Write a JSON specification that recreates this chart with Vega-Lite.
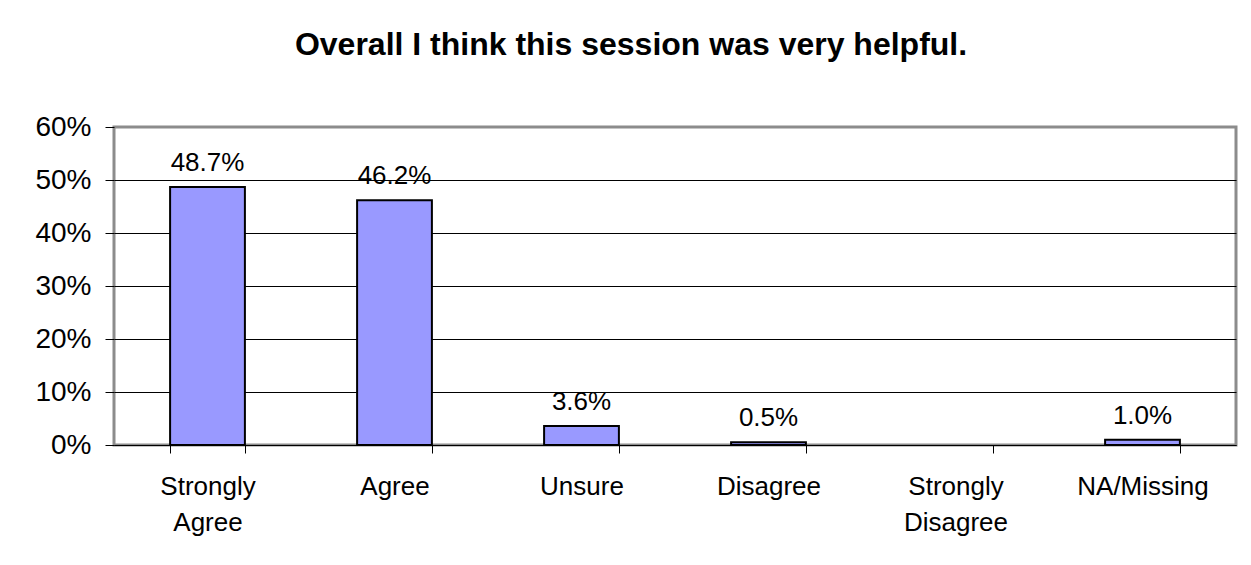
{
  "$schema": "https://vega.github.io/schema/vega-lite/v6.json",
  "autosize": {"type": "none"},
  "padding": {"left": 114, "top": 127, "right": 15, "bottom": 120},
  "width": 1122,
  "height": 318,
  "background": "white",
  "title": {
    "text": "Overall I think this session was very helpful.",
    "font": "Liberation Sans",
    "fontSize": 32,
    "fontWeight": "bold",
    "color": "black",
    "anchor": "middle",
    "frame": "group",
    "baseline": "alphabetic",
    "dx": -44,
    "offset": 26
  },
  "config": {
    "view": {"stroke": "#8c8c8c", "strokeWidth": 3},
    "font": "Liberation Sans"
  },
  "data": {
    "values": [
      {"response": "Strongly Agree", "pct": 0.487},
      {"response": "Agree", "pct": 0.462},
      {"response": "Unsure", "pct": 0.036},
      {"response": "Disagree", "pct": 0.005},
      {"response": "Strongly Disagree", "pct": null},
      {"response": "NA/Missing", "pct": 0.010}
    ]
  },
  "encoding": {
    "x": {
      "field": "response",
      "type": "nominal",
      "sort": null,
      "scale": {
        "domain": ["Strongly Agree", "Agree", "Unsure", "Disagree", "Strongly Disagree", "NA/Missing"],
        "paddingInner": 0.6,
        "paddingOuter": 0.3
      },
      "axis": {
        "title": null,
        "labelAngle": 0,
        "labelExpr": "split(datum.label, ' ')",
        "labelFont": "Liberation Sans",
        "labelFontSize": 26,
        "labelColor": "black",
        "labelLineHeight": 36,
        "labelPadding": 20,
        "labelBaseline": "top",
        "tickBand": "extent",
        "tickColor": "black",
        "tickSize": 8,
        "tickWidth": 1,
        "domainColor": "black",
        "domainWidth": 1,
        "grid": false
      }
    },
    "y": {
      "field": "pct",
      "type": "quantitative",
      "scale": {"domain": [0, 0.6], "nice": false},
      "axis": {
        "title": null,
        "format": ".0%",
        "values": [0, 0.1, 0.2, 0.3, 0.4, 0.5, 0.6],
        "labelFont": "Liberation Sans",
        "labelFontSize": 28,
        "labelColor": "black",
        "labelPadding": 14,
        "tickColor": "black",
        "tickSize": 9,
        "tickWidth": 1,
        "domain": false,
        "grid": true,
        "gridColor": {"condition": {"test": "datum.value >= 0.6", "value": "#8c8c8c"}, "value": "black"},
        "gridWidth": 1,
        "gridOpacity": 1
      }
    }
  },
  "layer": [
    {
      "mark": {"type": "bar", "fill": "#9999FF", "stroke": "black", "strokeWidth": 2}
    },
    {
      "mark": {"type": "text", "baseline": "alphabetic", "dy": -16, "fontSize": 26, "font": "Liberation Sans", "color": "black"},
      "encoding": {
        "text": {"field": "pct", "type": "quantitative", "format": ".1%"}
      }
    }
  ]
}
